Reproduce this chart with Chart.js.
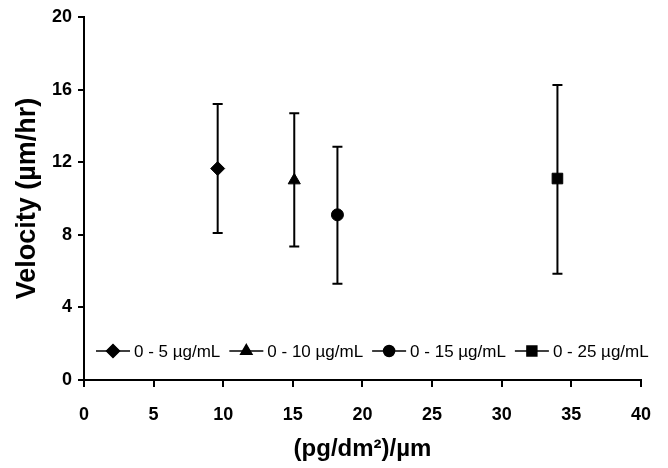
<!DOCTYPE html>
<html>
<head>
<meta charset="utf-8">
<script src="https://cdn.jsdelivr.net/npm/chart.js@4"></script>
<style>
  body { margin: 0; background: #fff; }
  #wrap { width: 668px; height: 468px; position: relative; }
</style>
</head>
<body>
<div id="wrap"><canvas id="myChart"></canvas></div>
<script>
// series data
var seriesNames = ['0 - 5 \u00b5g/mL', '0 - 10 \u00b5g/mL', '0 - 15 \u00b5g/mL', '0 - 25 \u00b5g/mL'];
var xValues = [9.6, 15.1, 18.2, 34.0];
var yValues = [11.65, 11.0, 9.1, 11.1];
var yLow = [8.1, 7.35, 5.3, 5.85];
var yHigh = [15.2, 14.7, 12.85, 16.25];
var markers = ['rectRot', 'triangle', 'circle', 'rect'];
var markerSizes = [7, 7, 6, 7.5];
var xTicks = [0, 5, 10, 15, 20, 25, 30, 35, 40];
var yTicks = [0, 4, 8, 12, 16, 20];

var tickFont = { family: "'Liberation Sans', Arial", size: 18, weight: 'bold' };

var datasets = [];
for (var i = 0; i < seriesNames.length; i++) {
    datasets.push({
        label: seriesNames[i],
        data: [{ x: xValues[i], y: yValues[i] }],
        pointStyle: markers[i],
        pointRadius: markerSizes[i],
        pointHoverRadius: markerSizes[i],
        backgroundColor: '#000',
        borderColor: '#000',
        borderWidth: 1,
        showLine: false
    });
}

// vertical error bars with caps
var errorBars = {
    id: 'errorBars',
    beforeDatasetsDraw: function (chart) {
        var ctx = chart.ctx;
        var xs = chart.scales.x, ys = chart.scales.y;
        ctx.save();
        ctx.strokeStyle = '#000';
        ctx.lineWidth = 2;
        for (var i = 0; i < xValues.length; i++) {
            var px = xs.getPixelForValue(xValues[i]);
            var top = ys.getPixelForValue(yHigh[i]);
            var bot = ys.getPixelForValue(yLow[i]);
            ctx.beginPath();
            ctx.moveTo(px, top); ctx.lineTo(px, bot);
            ctx.moveTo(px - 5, top); ctx.lineTo(px + 5, top);
            ctx.moveTo(px - 5, bot); ctx.lineTo(px + 5, bot);
            ctx.stroke();
        }
        ctx.restore();
    }
};

// legend drawn inside the plot, line through marker
var innerLegend = {
    id: 'innerLegend',
    afterDatasetsDraw: function (chart) {
        var ctx = chart.ctx;
        var area = chart.chartArea;
        var y = area.bottom - 29;
        var x = area.left + 12;
        ctx.save();
        ctx.font = "17px 'Liberation Sans', Arial";
        ctx.textBaseline = 'middle';
        ctx.fillStyle = '#000';
        ctx.strokeStyle = '#000';
        for (var i = 0; i < seriesNames.length; i++) {
            ctx.lineWidth = 1.5;
            ctx.beginPath();
            ctx.moveTo(x, y); ctx.lineTo(x + 34, y);
            ctx.stroke();
            Chart.helpers.drawPoint(ctx, { pointStyle: markers[i], radius: markerSizes[i] - 0.5, borderWidth: 1 }, x + 17, y);
            ctx.fill();
            ctx.fillText(seriesNames[i], x + 38, y + 1);
            x += 38 + ctx.measureText(seriesNames[i]).width + 9;
        }
        ctx.restore();
    }
};

var ctx = document.getElementById('myChart').getContext('2d');
var chart = new Chart(ctx, {
    type: 'scatter',
    data: { datasets: datasets },
    options: {
        responsive: true,
        maintainAspectRatio: false,
        animation: false,
        layout: { padding: { top: 17, right: 27, left: 0, bottom: 0 } },
        plugins: { legend: { display: false }, tooltip: { enabled: false } },
        scales: {
            x: {
                type: 'linear', min: 0, max: 40,
                afterBuildTicks: function (s) { s.ticks = xTicks.map(function (v) { return { value: v }; }); },
                afterFit: function (s) { s.height = 88; },
                grid: { display: true, drawOnChartArea: false, drawTicks: true, tickLength: 7, color: '#000', lineWidth: 2 },
                border: { display: true, color: '#000', width: 2 },
                ticks: { color: '#000', font: tickFont, padding: 17, maxRotation: 0 },
                title: { display: true, text: '(pg/dm\u00b2)/\u00b5m', color: '#000', font: { family: "'Liberation Sans', Arial", size: 24, weight: 'bold' }, padding: { top: 1 } }
            },
            y: {
                type: 'linear', min: 0, max: 20,
                afterBuildTicks: function (s) { s.ticks = yTicks.map(function (v) { return { value: v }; }); },
                afterFit: function (s) { s.width = 84; },
                grid: { display: true, drawOnChartArea: false, drawTicks: true, tickLength: 6, color: '#000', lineWidth: 2 },
                border: { display: true, color: '#000', width: 2 },
                ticks: { color: '#000', font: tickFont, padding: 6 },
                title: { display: true, text: 'Velocity (\u00b5m/hr)', color: '#000', font: { family: "'Liberation Sans', Arial", size: 27, weight: 'bold' }, padding: { top: 11, bottom: 0 } }
            }
        }
    },
    plugins: [errorBars, innerLegend]
});
</script>
</body>
</html>
